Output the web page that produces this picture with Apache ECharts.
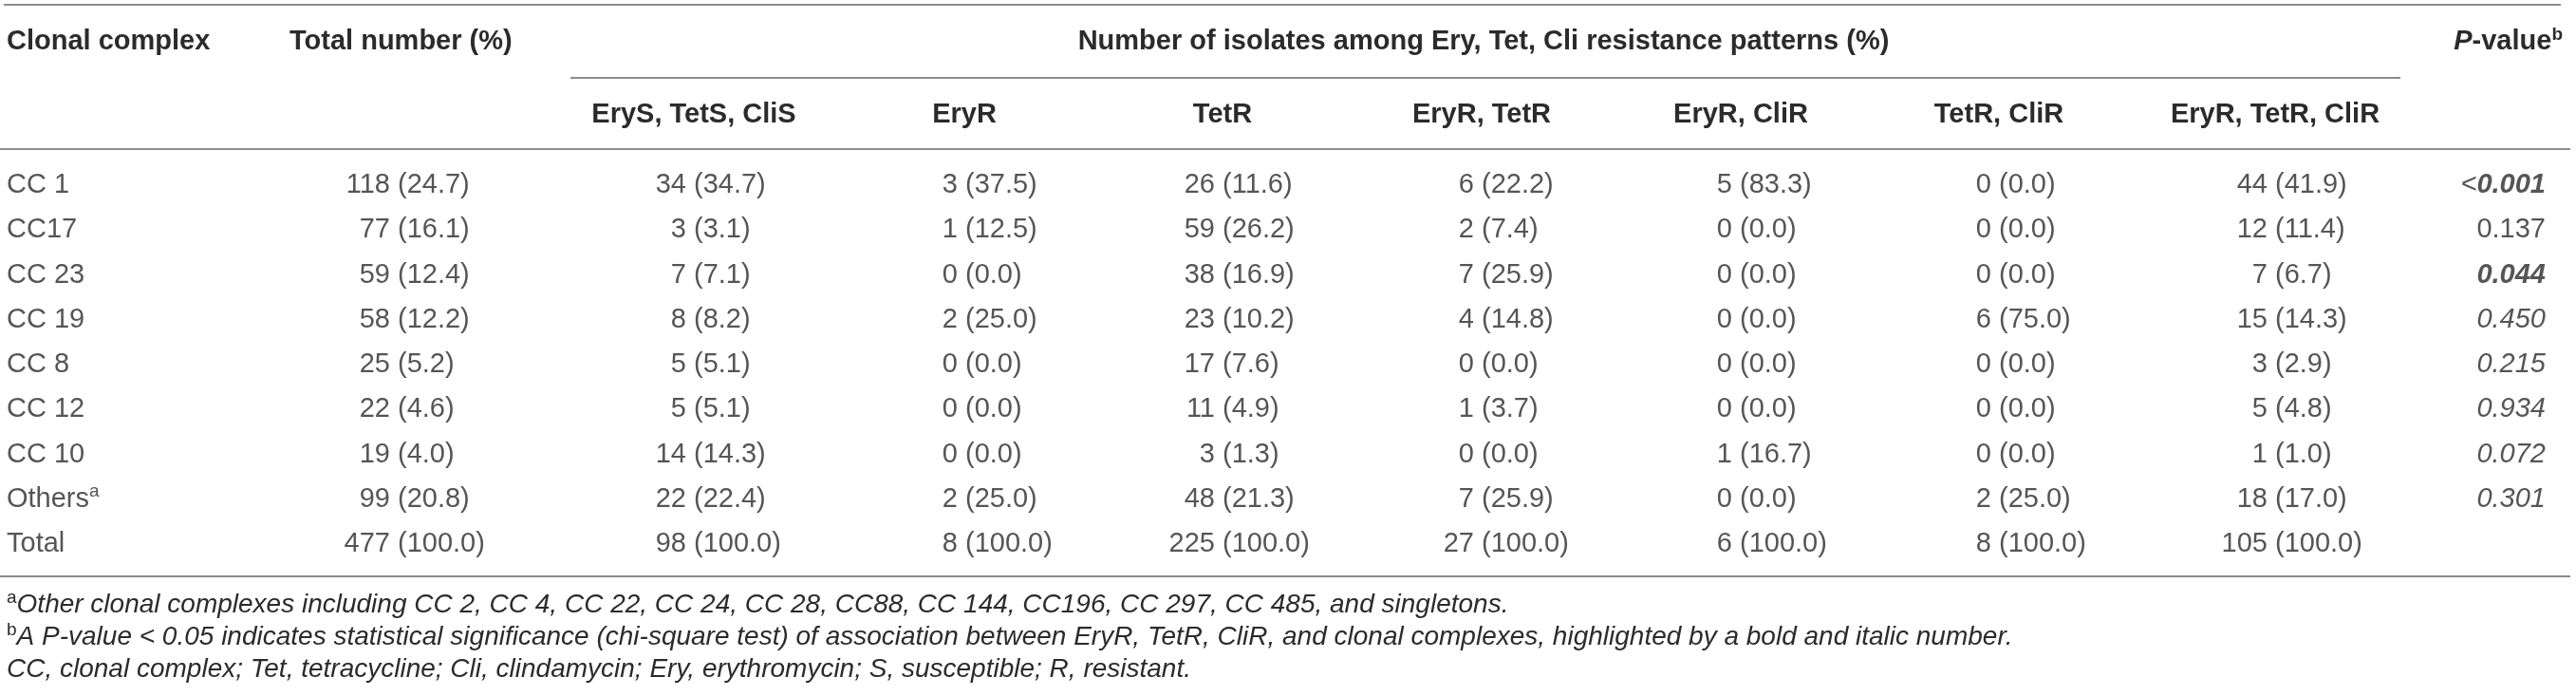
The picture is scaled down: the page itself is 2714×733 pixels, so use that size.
<!DOCTYPE html>
<html>
<head>
<meta charset="utf-8">
<style>
  html, body { margin: 0; background: #fff; }
  #container { width: 2714px; height: 733px; }
</style>
</head>
<body>
<div id="container"></div>
<script src="https://cdn.jsdelivr.net/npm/echarts@6/dist/echarts.min.js"></script>
<script>
// ---- table data ----
var rows = ['CC 1', 'CC17', 'CC 23', 'CC 19', 'CC 8', 'CC 12', 'CC 10', 'Others', 'Total'];
var rowNotes = ['', '', '', '', '', '', '', 'a', ''];
var patterns = ['EryS, TetS, CliS', 'EryR', 'TetR', 'EryR, TetR', 'EryR, CliR', 'TetR, CliR', 'EryR, TetR, CliR'];

var totalCount = [118, 77, 59, 58, 25, 22, 19, 99, 477];
var totalPct = [24.7, 16.1, 12.4, 12.2, 5.2, 4.6, 4.0, 20.8, 100.0];
var suscCount = [34, 3, 7, 8, 5, 5, 14, 22, 98];
var suscPct = [34.7, 3.1, 7.1, 8.2, 5.1, 5.1, 14.3, 22.4, 100.0];
var eryCount = [3, 1, 0, 2, 0, 0, 0, 2, 8];
var eryPct = [37.5, 12.5, 0.0, 25.0, 0.0, 0.0, 0.0, 25.0, 100.0];
var tetCount = [26, 59, 38, 23, 17, 11, 3, 48, 225];
var tetPct = [11.6, 26.2, 16.9, 10.2, 7.6, 4.9, 1.3, 21.3, 100.0];
var eryTetCount = [6, 2, 7, 4, 0, 1, 0, 7, 27];
var eryTetPct = [22.2, 7.4, 25.9, 14.8, 0.0, 3.7, 0.0, 25.9, 100.0];
var eryCliCount = [5, 0, 0, 0, 0, 0, 1, 0, 6];
var eryCliPct = [83.3, 0.0, 0.0, 0.0, 0.0, 0.0, 16.7, 0.0, 100.0];
var tetCliCount = [0, 0, 0, 6, 0, 0, 0, 2, 8];
var tetCliPct = [0.0, 0.0, 0.0, 75.0, 0.0, 0.0, 0.0, 25.0, 100.0];
var allCount = [44, 12, 7, 15, 3, 5, 1, 18, 105];
var allPct = [41.9, 11.4, 6.7, 14.3, 2.9, 4.8, 1.0, 17.0, 100.0];
var pValues = ['<0.001', '0.137', '0.044', '0.450', '0.215', '0.934', '0.072', '0.301', ''];

var footA = 'Other clonal complexes including CC 2, CC 4, CC 22, CC 24, CC 28, CC88, CC 144, CC196, CC 297, CC 485, and singletons.';
var footB = 'A P-value < 0.05 indicates statistical significance (chi-square test) of association between EryR, TetR, CliR, and clonal complexes, highlighted by a bold and italic number.';
var footC = 'CC, clonal complex; Tet, tetracycline; Cli, clindamycin; Ery, erythromycin; S, susceptible; R, resistant.';

// ---- layout / style (not data) ----
var W = 2714;
var FONT = "'Liberation Sans', Arial, Helvetica, sans-serif";
var TXT = '#2b2b2b';
var RULE = '#8c8c8c';
var FS = 29;
var nameX = 7;
var parenX = [419, 731, 1017, 1288, 1561, 1833, 2106, 2397];   // "(" position of each numeric column
var headX = [731, 1016, 1288, 1561, 1834, 2106, 2397];          // centre of pattern headers
var pX = 2682;
var pStyle = ['sig', 'plain', 'sig', 'ital', 'ital', 'ital', 'ital', 'ital', 'ital'];

var columns = [
  [totalCount, totalPct], [suscCount, suscPct], [eryCount, eryPct], [tetCount, tetPct],
  [eryTetCount, eryTetPct], [eryCliCount, eryCliPct], [tetCliCount, tetCliPct], [allCount, allPct]
];

var chart = echarts.init(document.getElementById('container'), null, { renderer: 'canvas' });

var baseLabel = { show: true, color: TXT, fontSize: FS, fontFamily: FONT };

function textSeries(xPos, texts, position, distance, extra) {
  return {
    type: 'scatter',
    symbolSize: 0,
    silent: true,
    data: texts.map(function (t, i) { return { value: [xPos, i], name: String(t) }; }),
    label: Object.assign({}, baseLabel, {
      position: position,
      distance: distance,
      formatter: function (p) { return p.name; }
    }, extra || {})
  };
}

var series = [];

// row names
series.push(textSeries(nameX, rows, 'right', 0, {
  formatter: function (p) {
    var note = rowNotes[p.dataIndex];
    return '{t|' + p.name + '}' + (note ? '{s|' + note + '}' : '');
  },
  rich: {
    t: { fontSize: FS, fontFamily: FONT, color: TXT, lineHeight: 34 },
    s: { fontSize: 19, fontFamily: FONT, color: TXT, lineHeight: 34, verticalAlign: 'top' }
  }
}));

// numeric columns: count right of "(", percentage from "("
columns.forEach(function (col, c) {
  series.push(textSeries(parenX[c], col[0], 'left', 8));
  series.push(textSeries(parenX[c], col[1].map(function (v) { return '(' + v.toFixed(1) + ')'; }), 'right', 0));
});

// p-values
series.push(textSeries(pX, pValues, 'left', 0, {
  formatter: function (p) {
    var s = p.name, st = pStyle[p.dataIndex];
    if (!s) return '';
    if (s.charAt(0) === '<') return '{ital|<}{' + st + '|' + s.slice(1) + '}';
    return '{' + st + '|' + s + '}';
  },
  rich: {
    sig: { fontSize: FS, fontFamily: FONT, color: TXT, fontWeight: 'bold', fontStyle: 'italic' },
    plain: { fontSize: FS, fontFamily: FONT, color: TXT },
    ital: { fontSize: FS, fontFamily: FONT, color: TXT, fontStyle: 'italic' }
  }
}));

// ---- headers, rules, footnotes ----
function rule(x1, y, x2) {
  return { type: 'line', silent: true, shape: { x1: x1, y1: y, x2: x2, y2: y }, style: { stroke: RULE, lineWidth: 2 } };
}
function txt(x, y, text, align, opts) {
  return {
    type: 'text', x: x, y: y, silent: true,
    style: Object.assign({
      text: text, fill: TXT, fontSize: FS, fontFamily: FONT, fontWeight: 'bold',
      align: align, verticalAlign: 'middle', textAlign: align, textVerticalAlign: 'middle'
    }, opts || {})
  };
}
function footnote(y, mark, text) {
  return txt(nameX, y, (mark ? '{s|' + mark + '}' : '') + '{t|' + text + '}', 'left', {
    fontWeight: 'normal',
    rich: {
      t: { fontSize: 28, fontFamily: FONT, fill: TXT, color: TXT, fontStyle: 'italic', lineHeight: 34 },
      s: { fontSize: 19, fontFamily: FONT, fill: TXT, color: TXT, lineHeight: 34, verticalAlign: 'top' }
    }
  });
}

var graphics = [
  rule(4, 5, 2698),
  rule(601, 82, 2529),
  rule(0, 157, 2708),
  rule(0, 607, 2708),
  txt(nameX, 44, 'Clonal complex', 'left'),
  txt(305, 44, 'Total number (%)', 'left'),
  txt(1563, 44, 'Number of isolates among Ery, Tet, Cli resistance patterns (%)', 'center'),
  txt(2700, 44, '{pi|P}{b|-value}{s|b}', 'right', {
    rich: {
      pi: { fontSize: FS, fontFamily: FONT, fill: TXT, color: TXT, fontWeight: 'bold', fontStyle: 'italic', lineHeight: 34 },
      b: { fontSize: FS, fontFamily: FONT, fill: TXT, color: TXT, fontWeight: 'bold', lineHeight: 34 },
      s: { fontSize: 19, fontFamily: FONT, fill: TXT, color: TXT, fontWeight: 'bold', lineHeight: 34, verticalAlign: 'top' }
    }
  }),
  footnote(637, 'a', footA),
  footnote(671, 'b', footB),
  footnote(705, '', footC)
];
patterns.forEach(function (p, i) {
  graphics.push(txt(headX[i], 121, p, 'center'));
});

var rowH = 47.25;
var gridTop = 195 - rowH / 2;
var gridBottom = 733 - (gridTop + rowH * rows.length);

chart.setOption({
  animation: false,
  backgroundColor: '#fff',
  grid: { left: 0, right: 0, top: gridTop, bottom: gridBottom },
  xAxis: { type: 'value', min: 0, max: W, show: false },
  yAxis: { type: 'category', data: rows, inverse: true, show: false },
  series: series,
  graphic: { elements: graphics }
});
</script>
</body>
</html>
